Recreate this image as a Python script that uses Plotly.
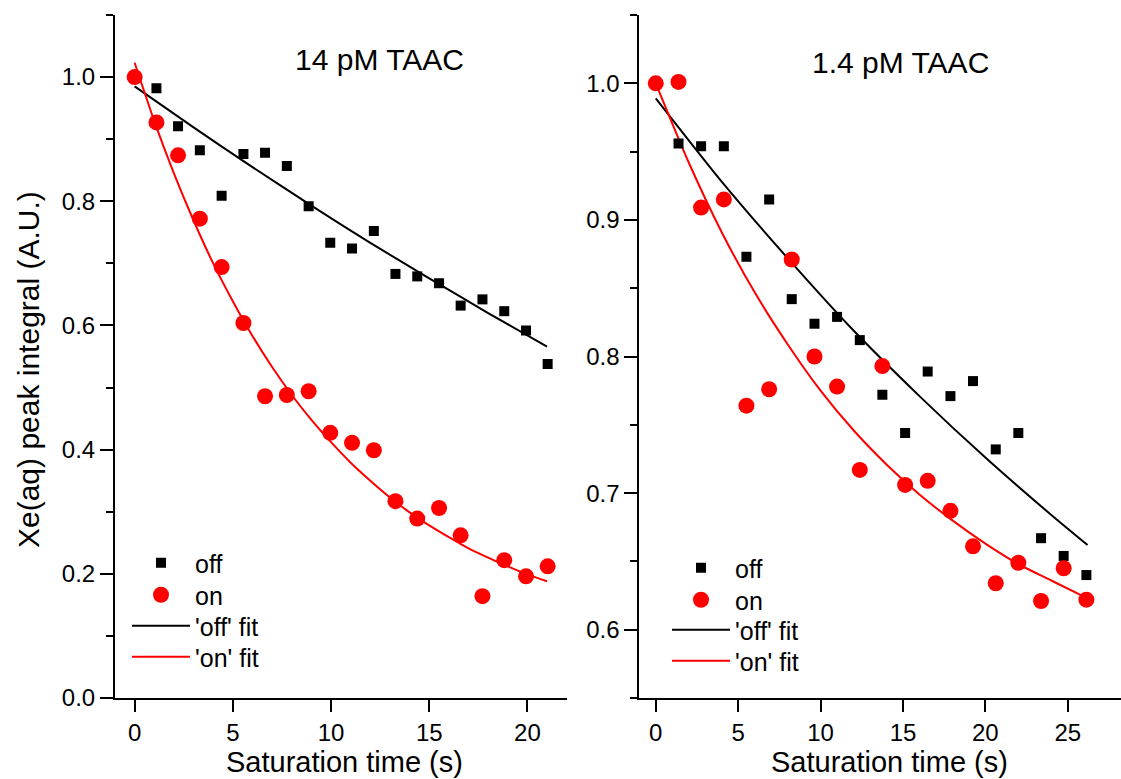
import plotly.graph_objects as go

# ---------------- data ----------------
# Left panel: 14 pM TAAC
left_t = [0, 1.11, 2.21, 3.32, 4.43, 5.54, 6.64, 7.75, 8.86, 9.96,
          11.07, 12.18, 13.28, 14.39, 15.5, 16.6, 17.71, 18.82, 19.93, 21.03]
left_off = [1.0, 0.982, 0.921, 0.882, 0.809, 0.876, 0.878, 0.857, 0.792, 0.733,
            0.724, 0.752, 0.683, 0.679, 0.668, 0.632, 0.642, 0.623, 0.592, 0.538]
left_on = [1.0, 0.927, 0.874, 0.772, 0.694, 0.604, 0.486, 0.488, 0.494, 0.427,
           0.411, 0.399, 0.317, 0.289, 0.306, 0.262, 0.164, 0.222, 0.196, 0.212]

left_off_fit_t = [0, 3, 6, 9, 12, 15, 18, 21]
left_off_fit_y = [0.985, 0.919, 0.855, 0.793, 0.733, 0.676, 0.620, 0.566]
left_on_fit_t = [0, 1, 2, 3, 4, 5, 6, 7, 8, 9, 10, 11, 12, 13, 14, 15, 16, 17, 18, 19, 20, 21]
left_on_fit_y = [1.023, 0.929, 0.845, 0.769, 0.700, 0.639, 0.583, 0.533, 0.488, 0.448, 0.412,
                 0.379, 0.350, 0.323, 0.299, 0.278, 0.259, 0.241, 0.226, 0.212, 0.199, 0.188]

# Right panel: 1.4 pM TAAC
right_t = [0, 1.38, 2.75, 4.13, 5.5, 6.88, 8.25, 9.63, 11.0, 12.38,
           13.75, 15.13, 16.5, 17.88, 19.25, 20.63, 22.0, 23.38, 24.75, 26.13]
right_off = [1.0, 0.956, 0.954, 0.954, 0.873, 0.915, 0.842, 0.824, 0.829, 0.812,
             0.772, 0.744, 0.789, 0.771, 0.782, 0.732, 0.744, 0.667, 0.654, 0.640]
right_on = [1.0, 1.001, 0.909, 0.915, 0.764, 0.776, 0.871, 0.800, 0.778, 0.717,
            0.793, 0.706, 0.709, 0.687, 0.661, 0.634, 0.649, 0.621, 0.645, 0.622]

right_off_fit_t = [0, 4, 8, 12, 16, 20, 24, 26.2]
right_off_fit_y = [0.989, 0.928, 0.872, 0.819, 0.771, 0.726, 0.684, 0.662]
right_on_fit_t = [0, 2, 4, 6, 8, 10, 12, 14, 16, 18, 20, 22, 24, 26.2]
right_on_fit_y = [1.000, 0.942, 0.891, 0.847, 0.809, 0.775, 0.746, 0.721, 0.699,
                  0.680, 0.663, 0.648, 0.636, 0.623]

panel_titles = ["14 pM TAAC", "1.4 pM TAAC"]
x_title = "Saturation time (s)"
y_title = "Xe(aq) peak integral (A.U.)"
names = ["off", "on", "'off' fit", "'on' fit"]

FONT = "Liberation Sans, Arial, sans-serif"
BLACK = "#000000"
RED = "#ff0000"

W, H = 1121, 779


def px(v):
    return v / W


def py(v):
    return 1 - v / H


fig = go.Figure()

# legend ids for each panel, in order: off, on, 'off' fit, 'on' fit
left_legs = ["legend", "legend2", "legend3", "legend4"]
right_legs = ["legend5", "legend6", "legend7", "legend8"]


def add_panel(t, off, on, oft, ofy, nft, nfy, xa, ya, legs):
    fig.add_trace(go.Scatter(x=oft, y=ofy, mode="lines", name=names[2],
                             line=dict(color=BLACK, width=2, shape="spline", smoothing=0.6),
                             xaxis=xa, yaxis=ya, legend=legs[2]))
    fig.add_trace(go.Scatter(x=nft, y=nfy, mode="lines", name=names[3],
                             line=dict(color=RED, width=2, shape="spline", smoothing=0.6),
                             xaxis=xa, yaxis=ya, legend=legs[3]))
    fig.add_trace(go.Scatter(x=t, y=off, mode="markers", name=names[0],
                             marker=dict(symbol="square", size=10, color=BLACK),
                             xaxis=xa, yaxis=ya, legend=legs[0]))
    fig.add_trace(go.Scatter(x=t, y=on, mode="markers", name=names[1],
                             marker=dict(symbol="circle", size=16, color=RED),
                             xaxis=xa, yaxis=ya, legend=legs[1]))


add_panel(left_t, left_off, left_on, left_off_fit_t, left_off_fit_y,
          left_on_fit_t, left_on_fit_y, "x", "y", left_legs)
add_panel(right_t, right_off, right_on, right_off_fit_t, right_off_fit_y,
          right_on_fit_t, right_on_fit_y, "x2", "y2", right_legs)

ydom = [py(698), py(15)]
axis_common = dict(showline=True, linecolor=BLACK, linewidth=2, ticks="outside",
                   tickcolor=BLACK, tickwidth=2, showgrid=False, zeroline=False,
                   tickfont=dict(family=FONT, size=24, color=BLACK), fixedrange=True)

fig.update_layout(
    width=W, height=H,
    margin=dict(l=0, r=0, t=0, b=0, autoexpand=False),
    paper_bgcolor="white", plot_bgcolor="white",
    font=dict(family=FONT, color=BLACK),
    xaxis=dict(domain=[px(115), px(566.7)], range=[-1, 22], dtick=5, tick0=0,
               ticklen=12, anchor="y", **axis_common),
    yaxis=dict(domain=ydom, range=[0, 1.1], dtick=0.2, tick0=0, tickformat=".1f",
               ticklen=13, anchor="x",
               minor=dict(dtick=0.1, tick0=0, ticks="outside", ticklen=7, tickwidth=2,
                          tickcolor=BLACK, showgrid=False),
               **axis_common),
    xaxis2=dict(domain=[px(639.3), 1.0], range=[-1, 28.23], dtick=5, tick0=0,
                ticklen=12, anchor="y2", **axis_common),
    yaxis2=dict(domain=ydom, range=[0.55, 1.05], dtick=0.1, tick0=0.5, tickformat=".1f",
                ticklen=13, anchor="x2",
                minor=dict(dtick=0.05, tick0=0.5, ticks="outside", ticklen=7, tickwidth=2,
                           tickcolor=BLACK, showgrid=False),
                **axis_common),
    showlegend=True,
)

# one single-entry legend per item, so each row sits where the reference has it
left_rows = [563, 595, 626, 657]
right_rows = [568, 600, 630, 661]
legend_layout = {}
for legs, rows, lx in [(left_legs, left_rows, 127), (right_legs, right_rows, 667)]:
    for leg, ry in zip(legs, rows):
        legend_layout[leg] = dict(x=px(lx), y=py(ry), xanchor="left", yanchor="middle",
                                  bgcolor="rgba(0,0,0,0)", borderwidth=0, itemwidth=58,
                                  font=dict(family=FONT, size=25, color=BLACK))
fig.update_layout(**legend_layout)

annotations = [
    dict(text=panel_titles[0], x=px(379), y=py(60), size=30),
    dict(text=panel_titles[1], x=px(900), y=py(62), size=30),
    dict(text=x_title, x=px(344), y=py(762), size=29),
    dict(text=x_title, x=px(889), y=py(762), size=29),
]
for a in annotations:
    fig.add_annotation(text=a["text"], x=a["x"], y=a["y"], xref="paper", yref="paper",
                       xanchor="center", yanchor="middle", showarrow=False,
                       font=dict(family=FONT, size=a["size"], color=BLACK))
fig.add_annotation(text=y_title, x=px(28), y=py(370), xref="paper", yref="paper",
                   xanchor="center", yanchor="middle", showarrow=False, textangle=-90,
                   font=dict(family=FONT, size=30, color=BLACK))

fig.write_html("out.html")
